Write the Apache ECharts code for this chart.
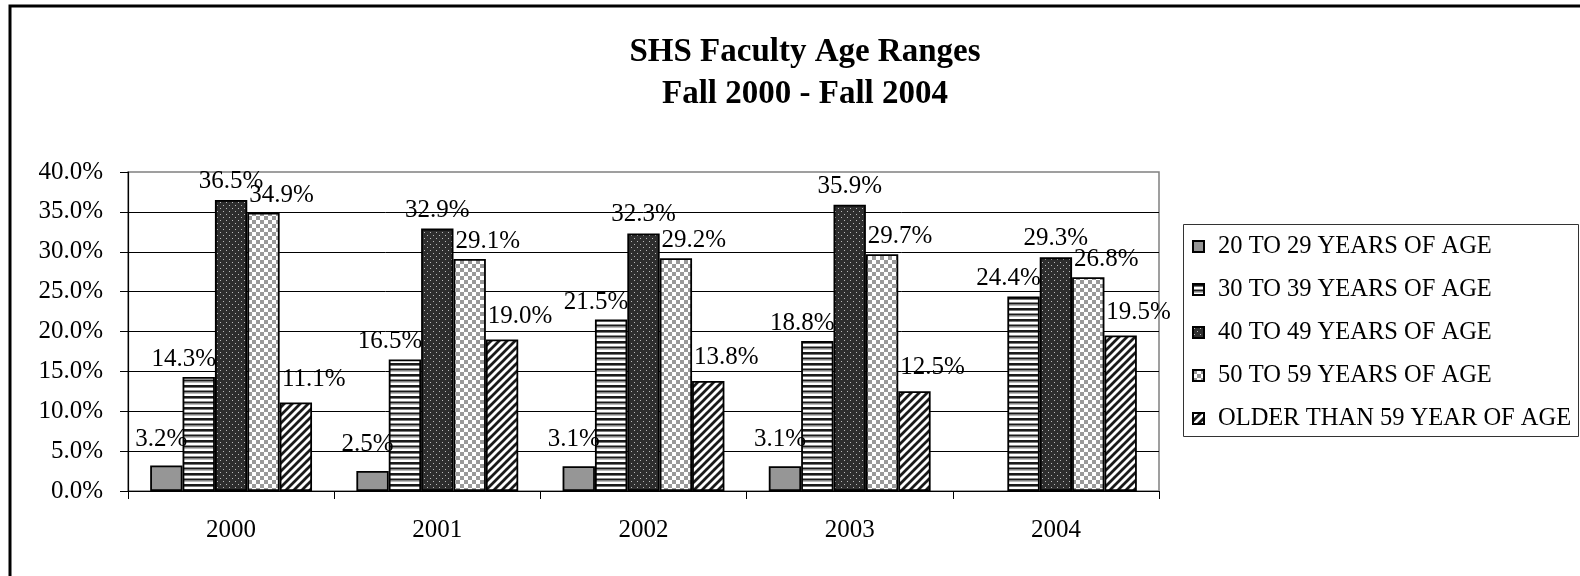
<!DOCTYPE html>
<html>
<head>
<meta charset="utf-8">
<script src="https://cdn.jsdelivr.net/npm/echarts@6/dist/echarts.min.js"></script>
<style>
html,body{margin:0;padding:0;background:#fff;}
#chart{width:1580px;height:576px;}
</style>
</head>
<body>
<div id="chart"></div>
<script>
// ---- data ----
const categories = ['2000', '2001', '2002', '2003', '2004'];
const seriesNames = ['20 TO 29 YEARS OF AGE', '30 TO 39 YEARS OF AGE', '40 TO 49 YEARS OF AGE', '50 TO 59 YEARS OF AGE', 'OLDER THAN 59 YEAR OF AGE'];
const age20to29 = [3.2, 2.5, 3.1, 3.1, null];
const age30to39 = [14.3, 16.5, 21.5, 18.8, 24.4];
const age40to49 = [36.5, 32.9, 32.3, 35.9, 29.3];
const age50to59 = [34.9, 29.1, 29.2, 29.7, 26.8];
const ageOver59 = [11.1, 19.0, 13.8, 12.5, 19.5];
const yTicks = [0, 5, 10, 15, 20, 25, 30, 35, 40];

// ---- patterns ----
function makeCanvas(w, h, draw) {
  const c = document.createElement('canvas');
  c.width = w; c.height = h;
  draw(c.getContext('2d'));
  return { image: c, repeat: 'repeat' };
}
const patSolid = '#969696';
const patHStripes = makeCanvas(11, 11, g => {
  g.fillStyle = '#fff'; g.fillRect(0, 0, 11, 11);
  g.fillStyle = '#1a1a1a'; g.fillRect(0, 0, 11, 2); g.fillRect(0, 5.5, 11, 2);
  g.fillStyle = '#777'; g.fillRect(0, 2, 11, 1); g.fillRect(0, 7.5, 11, 1);
});
const patDots = makeCanvas(6, 6, g => {
  g.fillStyle = '#2e2e2e'; g.fillRect(0, 0, 6, 6);
  g.fillStyle = '#bbbbbb'; g.fillRect(1, 1, 1, 1); g.fillRect(4, 4, 1, 1);
});
const patChecker = makeCanvas(8, 8, g => {
  g.fillStyle = '#fff'; g.fillRect(0, 0, 8, 8);
  g.fillStyle = '#999'; g.fillRect(0, 0, 4, 4); g.fillRect(4, 4, 4, 4);
});
const patDiag = makeCanvas(8, 8, g => {
  g.fillStyle = '#fff'; g.fillRect(0, 0, 8, 8);
  g.strokeStyle = '#1a1a1a'; g.lineWidth = 2.8;
  g.beginPath();
  g.moveTo(-2, 10); g.lineTo(10, -2);
  g.moveTo(-6, 6); g.lineTo(6, -6);
  g.moveTo(2, 14); g.lineTo(14, 2);
  g.stroke();
});
const fills = [patSolid, patHStripes, patDots, patChecker, patDiag];
const labelOffsets = [[-5, -9], [-15, 0], [0, -1], [18, 0], [18, -6]];
const allData = [age20to29, age30to39, age40to49, age50to59, ageOver59];

const FONT = 'Liberation Serif';
const chart = echarts.init(document.getElementById('chart'), null, { renderer: 'canvas' });

const series = allData.map((d, i) => ({
  name: seriesNames[i],
  type: 'bar',
  data: d,
  barGap: '0%',
  barCategoryGap: '21.5%',
  itemStyle: { color: fills[i], borderColor: '#000', borderWidth: 1.8 },
  label: {
    show: true, position: 'top', distance: 5,
    offset: labelOffsets[i],
    fontFamily: FONT, fontSize: 25, color: '#000',
    formatter: p => (p.value == null ? '' : p.value.toFixed(1) + '%')
  },
  emphasis: { disabled: true },
  animation: false
}));

chart.setOption({
  animation: false,
  backgroundColor: '#fff',
  title: {
    text: 'SHS Faculty Age Ranges\nFall 2000 - Fall 2004',
    left: 800, top: 26, textAlign: 'center',
    textStyle: { fontFamily: FONT, fontSize: 33, fontWeight: 'bold', color: '#000', lineHeight: 42 }
  },
  graphic: [
    { type: 'rect', shape: { x: 10, y: 6, width: 1640, height: 640 }, style: { fill: 'none', stroke: '#000', lineWidth: 3 }, silent: true },
    { type: 'rect', shape: { x: 1183.5, y: 224.5, width: 395, height: 212 }, style: { fill: 'none', stroke: '#333', lineWidth: 1 }, silent: true, z: 10 }
  ],
  legend: {
    orient: 'vertical',
    left: 1192, top: 234,
    padding: 0,
    itemWidth: 11, itemHeight: 11, itemGap: 18,
    icon: 'rect',
    selectedMode: false,
    textStyle: { fontFamily: FONT, fontSize: 24.5, color: '#000', lineHeight: 24, padding: [0, 0, 0, 9] },
    data: seriesNames
  },
  grid: {
    left: 128, right: 421, top: 172, bottom: 85,
    show: true, borderColor: '#808080', borderWidth: 1.5, containLabel: false
  },
  xAxis: {
    type: 'category',
    data: categories,
    axisLine: { lineStyle: { color: '#000', width: 1.2 } },
    axisTick: { show: true, length: 8, lineStyle: { color: '#000' } },
    axisLabel: { fontFamily: FONT, fontSize: 25, color: '#000', margin: 27 }
  },
  yAxis: {
    type: 'value',
    min: yTicks[0], max: yTicks[yTicks.length - 1], interval: yTicks[1] - yTicks[0],
    axisLine: { show: true, lineStyle: { color: '#000', width: 1.2 } },
    axisTick: { show: true, length: 8, lineStyle: { color: '#000' } },
    splitLine: { show: true, showMaxLine: false, lineStyle: { color: '#000', width: 1 } },
    axisLabel: { fontFamily: FONT, fontSize: 25, color: '#000', margin: 25, formatter: v => v.toFixed(1) + '%' }
  },
  series: series
});
</script>
</body>
</html>
